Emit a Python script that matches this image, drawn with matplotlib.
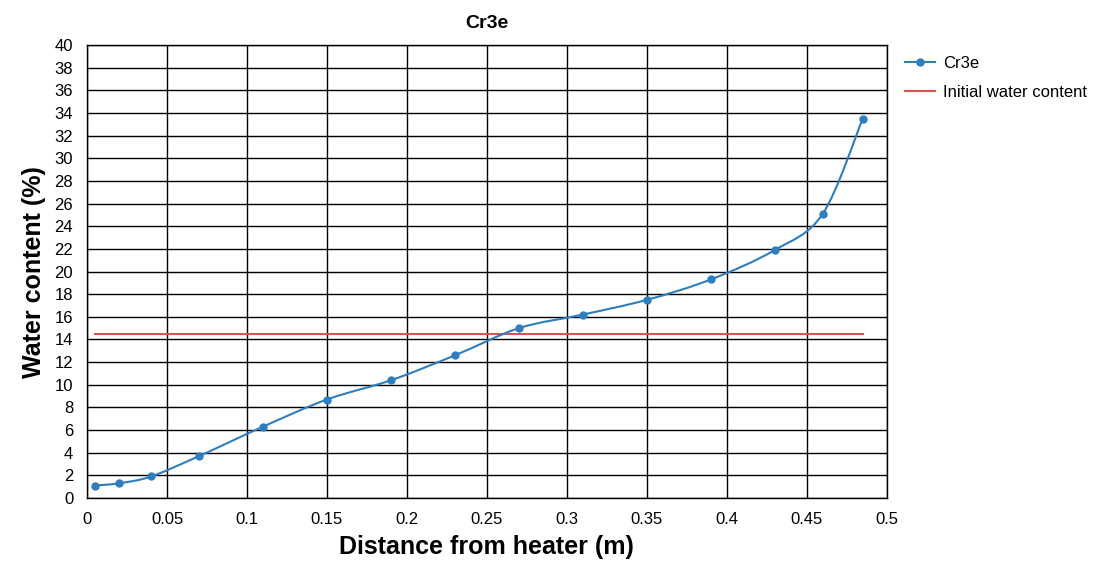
import numpy as np
import matplotlib.pyplot as plt
from matplotlib.path import Path
from matplotlib.patches import PathPatch
from matplotlib.lines import Line2D

plt.rcParams['font.family'] = ['Liberation Sans', 'DejaVu Sans']

# datos
distancia = [0.005, 0.02, 0.04, 0.07, 0.11, 0.15, 0.19, 0.23, 0.27, 0.31, 0.35, 0.39, 0.43, 0.46, 0.485]
humedad = [1.1, 1.3, 1.9, 3.7, 6.3, 8.7, 10.4, 12.6, 15.0, 16.2, 17.5, 19.3, 21.9, 25.1, 33.5]
humedad_inicial = 14.5
x_inicial = [0.005, 0.485]

azul = '#2e7ebf'
rojo = '#d9534f'


def camino_suave(ax, xs, ys):
    # curva tipo Excel (Catmull-Rom en Bezier) en coordenadas de pantalla
    pts = ax.transData.transform(np.column_stack([xs, ys]))
    n = len(pts)
    verts = [pts[0]]
    codes = [Path.MOVETO]
    for i in range(n - 1):
        p0 = pts[i - 1] if i > 0 else pts[i]
        p1 = pts[i]
        p2 = pts[i + 1]
        p3 = pts[i + 2] if i + 2 < n else pts[i + 1]
        c1 = p1 + (p2 - p0) / 6
        c2 = p2 - (p3 - p1) / 6
        verts += [c1, c2, p2]
        codes += [Path.CURVE4] * 3
    return Path(verts, codes)


fig = plt.figure(figsize=(11.06, 5.64), dpi=100)
ax = fig.add_axes([0.0787, 0.117, 0.723, 0.803])
ax.set_xlim(0, 0.5)
ax.set_ylim(0, 40)
ax.set_xticks(np.arange(0, 0.51, 0.05))
ax.set_xticklabels(['0', '0.05', '0.1', '0.15', '0.2', '0.25', '0.3', '0.35', '0.4', '0.45', '0.5'])
ax.set_yticks(np.arange(0, 41, 2))
ax.tick_params(length=0, labelsize=12)
ax.tick_params(axis='x', pad=10)
ax.tick_params(axis='y', pad=10)
ax.grid(True, color='black', linewidth=1)
ax.set_axisbelow(True)
for s in ax.spines.values():
    s.set_color('black')
    s.set_linewidth(1)

ax.plot(x_inicial, [humedad_inicial] * 2, color=rojo, linewidth=1.5, zorder=3)
fig.canvas.draw()
curva = PathPatch(camino_suave(ax, distancia, humedad), facecolor='none', edgecolor=azul,
                  linewidth=1.5, transform=None, zorder=4)
ax.add_artist(curva)
ax.plot(distancia, humedad, 'o', color=azul, markersize=5, zorder=5)

ax.set_title('Cr3e', fontsize=14, fontweight='bold', pad=12)
ax.set_xlabel('Distance from heater (m)', fontsize=18, fontweight='bold', labelpad=6)
ax.set_ylabel('Water content (%)', fontsize=18, fontweight='bold', labelpad=6)

manijas = [Line2D([], [], color=azul, marker='o', markersize=5, linewidth=1.5),
           Line2D([], [], color=rojo, linewidth=1.5)]
fig.legend(manijas, ['Cr3e', 'Initial water content'], loc='upper left',
           bbox_to_anchor=(0.805, 0.928), frameon=False, fontsize=12,
           handlelength=1.8, handletextpad=0.45, labelspacing=0.85)

fig.savefig('out.png', dpi=100)
